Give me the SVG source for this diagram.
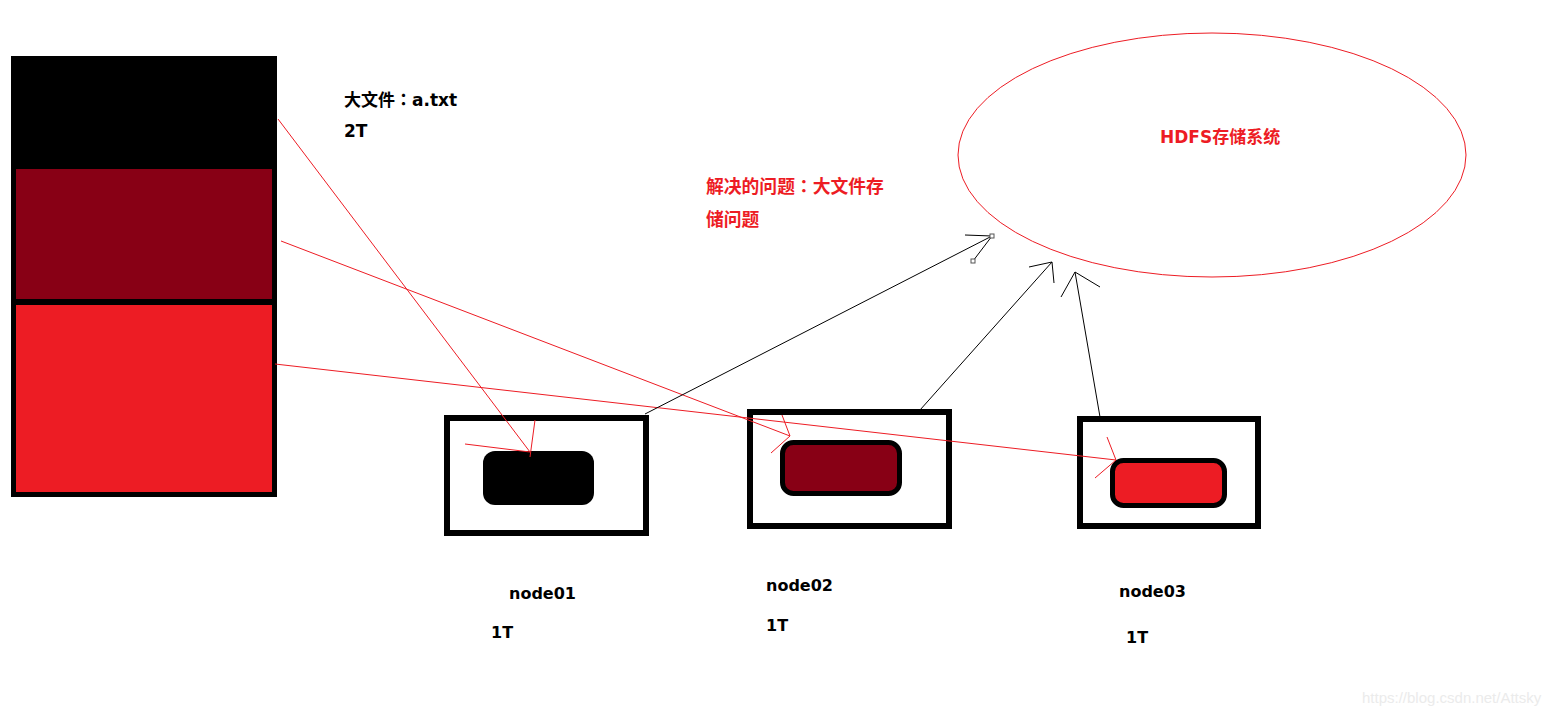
<svg xmlns="http://www.w3.org/2000/svg" width="1558" height="716" viewBox="0 0 1558 716">
<style>
.lat{font-family:"DejaVu Sans","Noto Sans CJK SC",sans-serif;font-weight:bold;font-size:16px;fill:#000}
.cjk{font-family:"DejaVu Sans","Noto Sans CJK SC",sans-serif;font-weight:bold;font-size:17px}
.col{font-family:"Noto Sans CJK TC","Noto Sans CJK JP",sans-serif}
.box{fill:#fff;stroke:#000;stroke-width:6}
.red{stroke:#ED1C24;stroke-width:1;fill:none}
.blk{stroke:#000;stroke-width:1;fill:none}
</style>
<rect width="1558" height="716" fill="#fff"/>
<g id="file-block">
<rect x="11" y="56" width="266" height="441" fill="#000"/>
<rect x="16" y="169" width="256" height="130" fill="#880015"/>
<rect x="16" y="305" width="256" height="187" fill="#ED1C24"/>
</g>
<g id="file-label">
<text class="cjk" x="344" y="106">大文件<tspan class="col">：</tspan>a.txt</text>
<text class="cjk" x="344" y="137">2T</text>
</g>
<g id="problem-label">
<text class="cjk" x="706" y="193" fill="#ED1C24" style="font-size:17.8px">解决的问题<tspan class="col">：</tspan>大文件存</text>
<text class="cjk" x="706" y="226" fill="#ED1C24" style="font-size:17.8px">储问题</text>
</g>
<g id="hdfs">
<ellipse cx="1212" cy="155" rx="254" ry="122" fill="none" stroke="#ED1C24" stroke-width="1"/>
<text class="cjk" x="1160" y="143" fill="#ED1C24">HDFS存储系统</text>
</g>
<g id="node01">
<rect class="box" x="447" y="418" width="199" height="115"/>
<rect x="483" y="451" width="111" height="54" rx="12" fill="#000"/>
<text class="lat" x="509" y="599">node01</text>
<text class="lat" x="491" y="638">1T</text>
</g>
<g id="node02">
<rect class="box" x="750" y="412" width="199" height="114"/>
<rect x="782.5" y="442.5" width="117" height="51" rx="11" fill="#880015" stroke="#000" stroke-width="5"/>
<text class="lat" x="766" y="591">node02</text>
<text class="lat" x="766" y="631">1T</text>
</g>
<g id="node03">
<rect class="box" x="1080" y="419" width="178" height="107"/>
<rect x="1112.5" y="460.5" width="112" height="45" rx="11" fill="#ED1C24" stroke="#000" stroke-width="5"/>
<text class="lat" x="1119" y="597">node03</text>
<text class="lat" x="1126" y="643">1T</text>
</g>
<g id="connectors">
<path class="red" d="M278,119 L530,452 M465,444 L530,452 M535,420 L530,457"/>
<path class="red" d="M281,241 L790,436 M782,415 L790,436 M771,453 L790,436"/>
<path class="red" d="M275,364 L1116,460 M1107,437 L1116,460 M1095,478 L1116,460"/>
<path class="blk" d="M645,414 L992,236 M965,235 L992,236 M973,261 L992,236"/>
<rect x="990" y="234" width="4" height="4" fill="#fff" stroke="#555" stroke-width="1"/>
<rect x="971" y="259" width="4" height="4" fill="#fff" stroke="#555" stroke-width="1"/>
<path class="blk" d="M920,410 L1052,262 M1029,267 L1052,262 M1054,283 L1052,262"/>
<path class="blk" d="M1100,417 L1075,272 M1061,297 L1075,272 M1100,287 L1075,272"/>
</g>
<text x="1362" y="703" font-family="Liberation Sans, sans-serif" font-size="15" fill="#ebebeb">https://blog.csdn.net/Attsky</text>
</svg>
